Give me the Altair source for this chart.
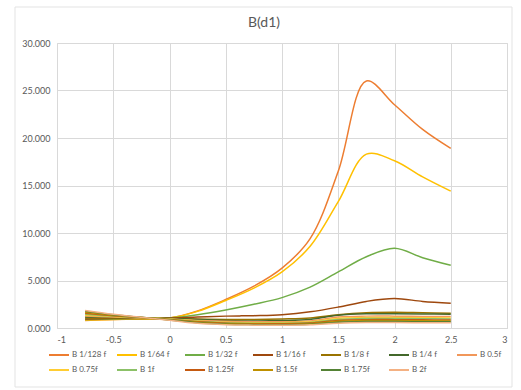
import altair as alt
import pandas as pd

# x positions shared by every series
x_vals = [-0.75, -0.5, -0.25, 0.0, 0.25, 0.5, 0.75, 1.0, 1.25, 1.5, 1.75, 2.0, 2.25, 2.5]

series_names = [
    "B 1/128 f", "B 1/64 f", "B 1/32 f", "B 1/16 f", "B 1/8 f", "B 1/4 f", "B 0.5f",
    "B 0.75f", "B 1f", "B 1.25f", "B 1.5f", "B 1.75f", "B 2f",
]

series_colors = [
    "#ED7D31", "#FFC000", "#70AD47", "#9E480E", "#997300", "#43682B", "#F1975A",
    "#FFCD33", "#8CC168", "#C55A11", "#BF9000", "#548235", "#F4B183",
]

b_1_128 = [0.80, 0.90, 0.95, 1.05, 1.80, 3.00, 4.40, 6.30, 9.40, 16.5, 26.0, 23.5, 20.9, 18.9]
b_1_64 = [0.85, 0.90, 0.95, 1.05, 1.75, 2.90, 4.20, 5.90, 8.60, 13.3, 18.3, 17.6, 15.9, 14.4]
b_1_32 = [0.90, 0.95, 1.00, 1.05, 1.40, 1.90, 2.50, 3.20, 4.30, 5.90, 7.50, 8.40, 7.40, 6.60]
b_1_16 = [0.95, 1.00, 1.00, 1.05, 1.15, 1.25, 1.30, 1.40, 1.70, 2.20, 2.80, 3.10, 2.80, 2.60]
b_1_8 = [1.05, 1.05, 1.05, 1.00, 0.95, 0.90, 0.90, 0.95, 1.05, 1.40, 1.60, 1.65, 1.60, 1.55]
b_1_4 = [1.15, 1.10, 1.05, 1.00, 0.90, 0.80, 0.75, 0.78, 0.90, 1.35, 1.50, 1.50, 1.48, 1.45]
b_0_5 = [1.25, 1.15, 1.05, 0.95, 0.80, 0.70, 0.65, 0.66, 0.75, 1.15, 1.25, 1.25, 1.22, 1.20]
b_0_75 = [1.35, 1.20, 1.08, 0.95, 0.75, 0.60, 0.55, 0.56, 0.65, 1.00, 1.10, 1.10, 1.08, 1.05]
b_1 = [1.45, 1.25, 1.10, 0.92, 0.70, 0.55, 0.50, 0.50, 0.58, 0.90, 1.00, 1.00, 0.98, 0.95]
b_1_25 = [1.55, 1.30, 1.10, 0.90, 0.65, 0.50, 0.45, 0.44, 0.52, 0.80, 0.88, 0.88, 0.86, 0.85]
b_1_5 = [1.65, 1.35, 1.10, 0.88, 0.60, 0.45, 0.40, 0.38, 0.45, 0.70, 0.78, 0.78, 0.76, 0.75]
b_1_75 = [1.75, 1.40, 1.12, 0.85, 0.55, 0.40, 0.35, 0.33, 0.39, 0.60, 0.68, 0.68, 0.66, 0.65]
b_2 = [1.85, 1.45, 1.12, 0.82, 0.50, 0.35, 0.30, 0.28, 0.33, 0.50, 0.57, 0.57, 0.56, 0.55]

series_values = [b_1_128, b_1_64, b_1_32, b_1_16, b_1_8, b_1_4, b_0_5,
                 b_0_75, b_1, b_1_25, b_1_5, b_1_75, b_2]

x_ticks = [-1, -0.5, 0, 0.5, 1, 1.5, 2, 2.5, 3]
y_ticks = [0, 5, 10, 15, 20, 25, 30]

rows = []
for order, (name, vals) in enumerate(zip(series_names, series_values)):
    for x, v in zip(x_vals, vals):
        rows.append({"series": name, "order": order, "x": x, "value": v})
df = pd.DataFrame(rows)

FONT = "Lato"
GREY = "#595959"
GRID = "#D9D9D9"

lines = alt.Chart(df).mark_line(strokeWidth=1.5, interpolate="catmull-rom").encode(
    x=alt.X(
        "x:Q",
        scale=alt.Scale(domain=[-1, 3], nice=False, zero=False),
        axis=alt.Axis(
            values=x_ticks, title=None, labelExpr="datum.value", grid=True,
            gridColor=GRID, domainColor=GRID, ticks=False, labelPadding=7,
            labelFont=FONT, labelFontSize=9, labelColor=GREY,
        ),
    ),
    y=alt.Y(
        "value:Q",
        scale=alt.Scale(domain=[0, 30], nice=False),
        axis=alt.Axis(
            values=y_ticks, format=".3f", title=None, grid=True, gridColor=GRID,
            domain=False, ticks=False, labelPadding=7,
            labelFont=FONT, labelFontSize=9, labelColor=GREY,
        ),
    ),
    color=alt.Color(
        "series:N",
        scale=alt.Scale(domain=series_names, range=series_colors),
        legend=alt.Legend(
            title=None, orient="none", legendX=-9, legendY=301, direction="horizontal",
            columns=7, gridAlign="all", symbolType="stroke", symbolSize=400,
            symbolStrokeWidth=2, labelFont=FONT, labelFontSize=8, labelColor=GREY,
            labelOffset=2, columnPadding=6, rowPadding=-4,
        ),
    ),
    order="order:Q",
    detail="series:N",
)

# light frame around the whole chart area
frame = alt.Chart(pd.DataFrame({"k": [0]})).mark_rect(
    fill=None, stroke="#E3E3E3", strokeWidth=1, clip=False
).encode(
    x=alt.value(-42), x2=alt.value(455), y=alt.value(-36), y2=alt.value(344)
)

chart = alt.layer(frame, lines).properties(
    width=450,
    height=285,
    title=alt.TitleParams(
        "B(d1)", font=FONT, fontSize=14, fontWeight="normal", color=GREY,
        anchor="middle", dx=-18, offset=-23,
    ),
    autosize=alt.AutoSizeParams(type="none"),
    padding={"left": 57, "top": 43, "right": 14, "bottom": 62},
).configure_view(stroke=None).configure(background="white")

chart.save("out.html", embed_options={"renderer": "svg", "actions": False})
